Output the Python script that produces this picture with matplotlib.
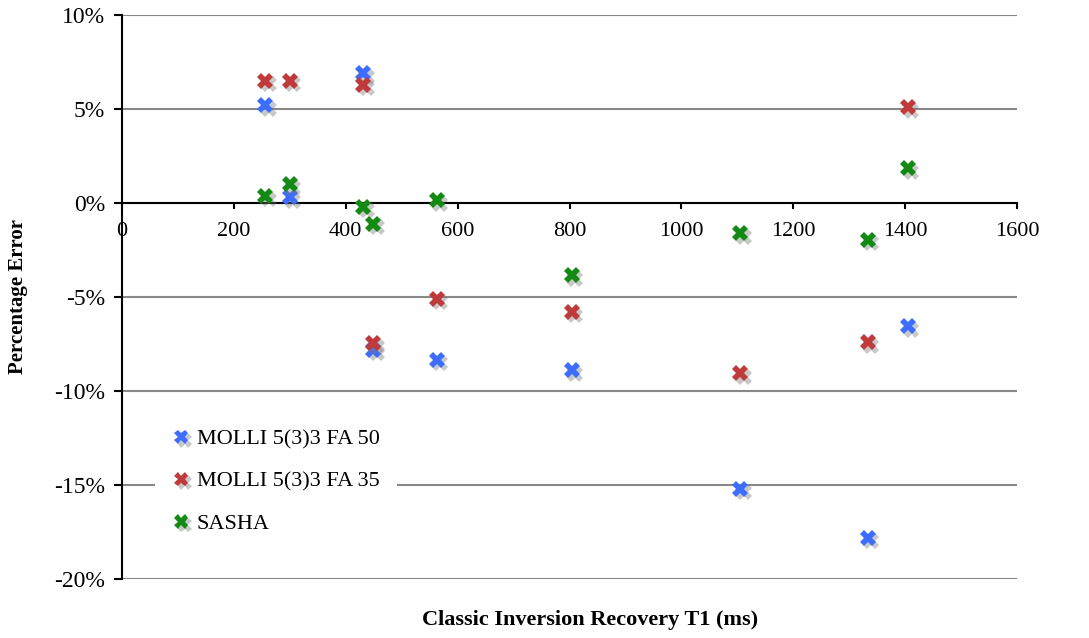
import matplotlib
matplotlib.use('Agg')
import matplotlib.pyplot as plt
import matplotlib.patheffects as pe
from matplotlib.ticker import FuncFormatter

# T1 reference values (ms) et erreurs (%)
t1_ref = [256, 300, 431, 449, 563, 804, 1105, 1333, 1405]
err_fa50 = [5.2, 0.3, 6.9, -7.8, -8.35, -8.9, -15.2, -17.8, -6.55]
err_fa35 = [6.5, 6.5, 6.3, -7.45, -5.1, -5.8, -9.05, -7.4, 5.1]
err_sasha = [0.37, 1.0, -0.2, -1.1, 0.15, -3.85, -1.6, -1.95, 1.85]

series_names = ["MOLLI 5(3)3 FA 50", "MOLLI 5(3)3 FA 35", "SASHA"]
series_colors = ["#3d6dff", "#c0393b", "#138a13"]
x_ticks = [0, 200, 400, 600, 800, 1000, 1200, 1400, 1600]
y_ticks = [-20, -15, -10, -5, 0, 5, 10]

plt.rcParams['font.family'] = ['Liberation Serif', 'DejaVu Serif']

fig = plt.figure(figsize=(10.89, 6.38), dpi=100)
ax = fig.add_axes([0.112, 0.0925, 0.822, 0.884])

shadow = [pe.SimplePatchShadow(offset=(2.5, -2.5), shadow_rgbFace='#777777', alpha=0.4), pe.Normal()]

for vals, name, col in zip([err_fa50, err_fa35, err_sasha], series_names, series_colors):
    ax.plot(t1_ref, vals, linestyle='none', marker='X', markersize=11.5,
            markeredgewidth=0, color=col, label=name, path_effects=shadow, zorder=3)

ax.set_xlim(0, 1600)
ax.set_ylim(-20, 10)
ax.set_xticks(x_ticks)
ax.set_yticks(y_ticks)
ax.yaxis.set_major_formatter(FuncFormatter(lambda v, p: "{0:d}%".format(int(round(v)))))

ax.grid(axis='y', color='#888888', linewidth=1.5, zorder=0)
ax.set_axisbelow(True)
ax.spines['top'].set_visible(False)
ax.spines['right'].set_visible(False)
ax.spines['bottom'].set_position(('data', 0))
ax.spines['left'].set_linewidth(1.5)
ax.spines['bottom'].set_linewidth(1.5)

ax.tick_params(axis='x', direction='out', length=4, width=1.5, pad=10, labelsize=16)
ax.tick_params(axis='y', direction='out', length=6, width=1.5, pad=6, labelsize=17, colors='black')

ax.set_xlabel("Classic Inversion Recovery T1 (ms)", fontsize=16, fontweight='bold')
ax.xaxis.set_label_coords(0.523, -0.055)
ax.set_ylabel("Percentage Error", fontsize=15, fontweight='bold')
ax.yaxis.set_label_coords(-0.105, 0.5)

leg = ax.legend(loc='lower left', bbox_to_anchor=(0.024, 0.028), frameon=True,
                fontsize=16, handlelength=0.8, handletextpad=0.3, labelspacing=0.98,
                borderpad=0.8, markerscale=0.9)
leg.get_frame().set_facecolor('white')
leg.get_frame().set_edgecolor('none')
leg.get_frame().set_alpha(1.0)

plt.savefig("out.png", dpi=100)
